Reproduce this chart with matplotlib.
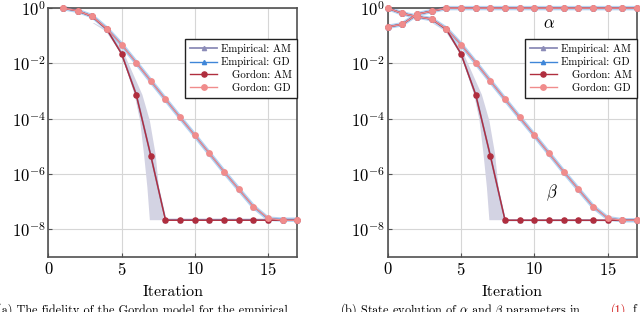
import numpy as np
import matplotlib.pyplot as plt

### data ##########################
iters = np.arange(1, 18)
gordon_am = [1.0, 0.8, 0.5, 0.17, 0.022, 7.4e-4, 4.5e-6, 2.1e-8, 2.1e-8, 2.1e-8,
             2.1e-8, 2.1e-8, 2.1e-8, 2.1e-8, 2.1e-8, 2.1e-8, 2.1e-8]
gordon_gd = [1.0, 0.8, 0.51, 0.18, 0.048, 0.0107, 2.3e-3, 5e-4, 1.1e-4, 2.5e-5,
             5.5e-6, 1.2e-6, 2.8e-7, 6.6e-8, 2.5e-8, 2.1e-8, 2.1e-8]
emp_am = [1.0, 0.8, 0.5, 0.17, 0.023, 7.6e-4, 4.5e-6, 2.2e-8, 2.2e-8, 2.2e-8,
          2.2e-8, 2.2e-8, 2.2e-8, 2.2e-8, 2.2e-8, 2.2e-8, 2.2e-8]
emp_gd = [1.0, 0.8, 0.51, 0.18, 0.048, 0.0107, 2.3e-3, 5e-4, 1.1e-4, 2.5e-5,
          5.5e-6, 1.2e-6, 2.8e-7, 6.6e-8, 2.4e-8, 2.2e-8, 2.2e-8]

# spread of the empirical AM runs (iteration at which each level is reached)
band_lvl = [0.3, 0.15, 0.023, 7.6e-4, 8.7e-5, 5.4e-6, 3.4e-7, 2.2e-8]
band_first = [3.0, 3.9, 4.95, 5.86, 6.23, 6.5, 6.73, 6.9]
band_last = [3.1, 4.15, 5.15, 6.39, 6.9, 7.29, 7.52, 7.86]

# right panel: state evolution, alpha and beta
se_iters = np.arange(0, 18)
beta_am = [1.0, 0.64, 0.49, 0.40, 0.17, 0.022, 7.4e-4, 4.5e-6, 2.1e-8, 2.1e-8,
           2.1e-8, 2.1e-8, 2.1e-8, 2.1e-8, 2.1e-8, 2.1e-8, 2.1e-8, 2.1e-8]
beta_gd = [1.0, 0.64, 0.49, 0.40, 0.18, 0.048, 0.0107, 2.3e-3, 5e-4, 1.1e-4,
           2.5e-5, 5.5e-6, 1.2e-6, 2.8e-7, 6.6e-8, 2.5e-8, 2.1e-8, 2.1e-8]
alpha = [0.21, 0.26, 0.6, 0.78, 1.0, 1.0, 1.0, 1.0, 1.0, 1.0,
         1.0, 1.0, 1.0, 1.0, 1.0, 1.0, 1.0, 1.0]

# leading spaces roughly centre the shorter entries, like the pgfplots legend
labels = ["Empirical: AM", "Empirical: GD", "   Gordon: AM", "   Gordon: GD"]
xticks = [0, 5, 10, 15]
yticks = [1e-8, 1e-6, 1e-4, 1e-2, 1]
######

c_eam = "#8c8cb8"
c_band = "#d3d3e3"
c_egd = "#3f86d8"
c_spread = "#b6d3f2"
c_am = "#b02e3e"
c_gd = "#f08c8c"

plt.rcParams["font.family"] = "cmr10"
plt.rcParams["mathtext.fontset"] = "cm"
plt.rcParams["axes.formatter.use_mathtext"] = True


def curves(ax, x, eam, egd, am, gd, lab=True):
    ax.plot(x, egd, color=c_spread, lw=3.2, solid_capstyle="round", zorder=2, clip_on=False)
    ax.plot(x, eam, color=c_eam, lw=1.3, marker="^", ms=3, zorder=3, clip_on=False,
            label=labels[0] if lab else None)
    ax.plot(x, egd, color=c_egd, lw=1.0, marker="^", ms=3, zorder=3, clip_on=False,
            label=labels[1] if lab else None)
    ax.plot(x, am, color=c_am, lw=1.0, marker="o", ms=3.7, zorder=4, clip_on=False,
            label=labels[2] if lab else None)
    ax.plot(x, gd, color=c_gd, lw=1.0, marker="o", ms=3.9, zorder=5, clip_on=False,
            label=labels[3] if lab else None)


def setup(ax):
    ax.fill_betweenx(band_lvl, band_first, band_last, color=c_band, lw=0, zorder=1)
    ax.set_yscale("log")
    ax.set_xlim(0, 17)
    ax.set_ylim(1e-9, 1)
    ax.set_xticks(xticks)
    ax.set_yticks(yticks)
    ax.minorticks_off()
    ax.grid(color="#d6d6d6", lw=0.8)
    ax.set_axisbelow(True)
    for s in ax.spines.values():
        s.set_color("#505050")
        s.set_linewidth(1.2)
    ax.tick_params(direction="in", length=3, color="#505050", labelsize=12, pad=3)
    ax.tick_params(axis="y", pad=2)
    ax.set_xlabel("Iteration", fontsize=11.5, labelpad=5)
    leg = ax.legend(loc="upper right", bbox_to_anchor=(1.0, 0.875), borderaxespad=0,
                    fontsize=7.8, fancybox=False, framealpha=1, edgecolor="#222222",
                    handlelength=2.5, handletextpad=0.4, labelspacing=0.3, borderpad=0.45)
    leg.get_frame().set_linewidth(1.0)
    leg.set_zorder(10)


fig = plt.figure(figsize=(6.4, 3.12), dpi=100)
ax1 = fig.add_axes([0.0755, 0.177, 0.389, 0.797])
ax2 = fig.add_axes([0.6058, 0.177, 0.3895, 0.797])

curves(ax1, iters, emp_am, emp_gd, gordon_am, gordon_gd)
setup(ax1)

curves(ax2, se_iters, alpha, alpha, alpha, alpha, lab=False)
curves(ax2, se_iters, beta_am, beta_gd, beta_am, beta_gd)
setup(ax2)
ax2.text(11.0, 10**-0.56, r"$\alpha$", fontsize=12, ha="center", va="center")
ax2.text(11.2, 10**-6.69, r"$\beta$", fontsize=12, ha="center", va="center")

# figure captions, cut off by the bottom edge as in the source
fig.text(-0.004, -0.004, "(a) The fidelity of the Gordon model for the empirical",
         fontsize=8.8, va="baseline")
fig.text(0.531, -0.004, r"(b) State evolution of $\alpha$ and $\beta$ parameters in",
         fontsize=8.8, va="baseline")
fig.text(0.955, -0.004, "(1)", color="#d01010", fontsize=8.8, va="baseline")
fig.text(0.988, -0.004, "f", fontsize=8.8, va="baseline")

plt.savefig("out.png", dpi=100)
